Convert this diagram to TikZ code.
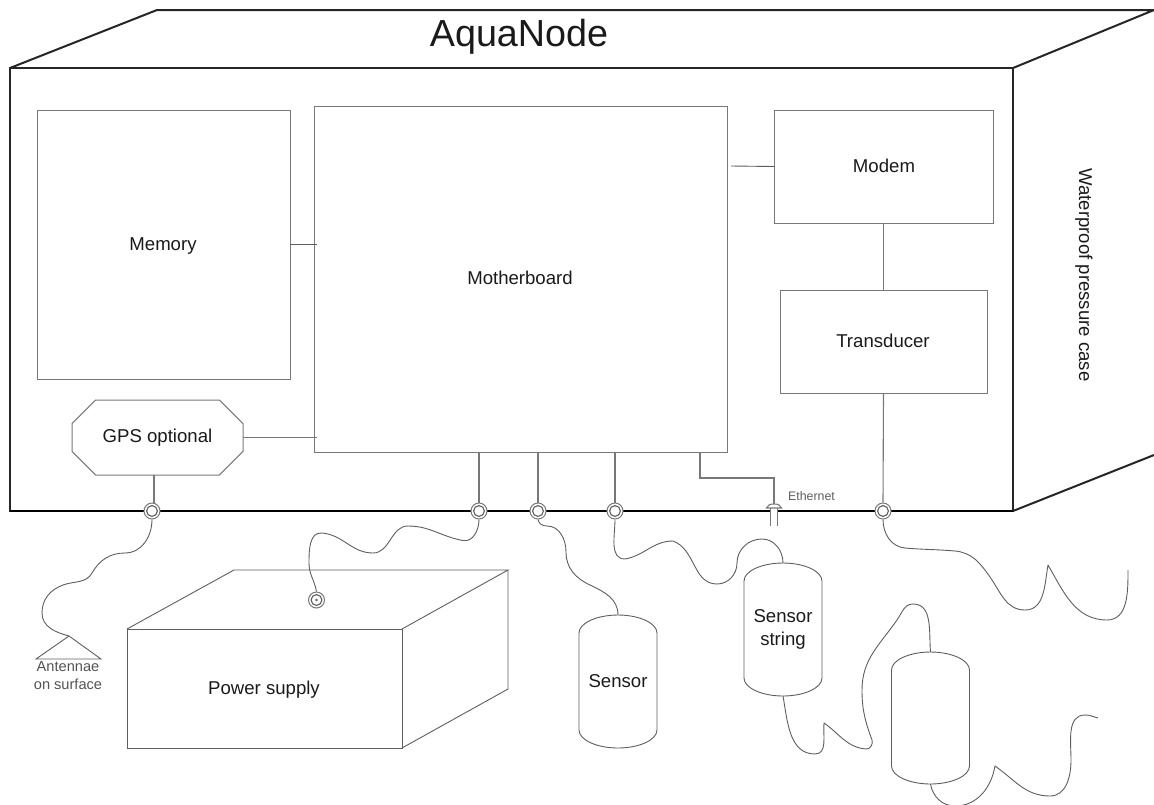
\documentclass[tikz,border=0pt]{standalone}
\usepackage{fontspec}
\setmainfont{Liberation Sans}
\usetikzlibrary{calc,shapes.misc}
\definecolor{ink}{HTML}{1A1A1A}
\definecolor{boxline}{HTML}{787878}
\definecolor{cableline}{HTML}{5E5E5E}
\tikzset{
  txt/.style={text=ink,font=\fontsize{18.6}{23}\selectfont,align=center,inner sep=0pt},
  smalltxt/.style={text=ink!75,font=\fontsize{14.6}{18}\selectfont,align=center,inner sep=0pt},
  tinytxt/.style={text=ink!70,font=\fontsize{12.4}{15}\selectfont,inner sep=0pt},
  boxnode/.style={rectangle,draw=boxline,line width=1pt,inner sep=0pt,outer sep=0pt,anchor=north west,fill=white},
  caseface/.style={draw=black!85,line width=2pt,line join=miter},
  link/.style={draw=boxline,line width=1.1pt},
  thinlink/.style={draw=cableline,line width=0.9pt},
  cable/.style={draw=cableline,line width=0.9pt,line join=round},
  portnode/.style={circle,draw=boxline,fill=white,line width=1pt,minimum size=16pt,inner sep=0pt,
    path picture={\draw[draw=cableline,line width=1.1pt] (path picture bounding box.center) circle (5.4);}},
  tankbox/.style={rectangle,minimum width=78pt,inner sep=0pt,outer sep=0pt,text=ink,font=\fontsize{18.6}{23}\selectfont,align=center},
}
\newcommand{\tank}[4]{%
  \node[tankbox,minimum height=#3] (#1) at (#2) {#4};
  \draw[thinlink] ($(#1.north west)+(0,18)$) .. controls +(0,-10) and +(-21,0) .. (#1.north)
    .. controls +(21,0) and +(0,-10) .. ($(#1.north east)+(0,18)$)
    -- ($(#1.south east)+(0,-18)$) .. controls +(0,10) and +(21,0) .. (#1.south)
    .. controls +(-21,0) and +(0,10) .. ($(#1.south west)+(0,-18)$) -- cycle;
}
\begin{document}
\begin{tikzpicture}[x=1pt,y=-1pt]
\useasboundingbox (0,0) rectangle (1154,804);
\clip (0,0) rectangle (1154,804);
% case
\coordinate (backTL) at (157,10);
\coordinate (backTR) at (1154,10);
\coordinate (backBR) at (1154,455);
\node[rectangle,caseface,inner sep=0pt,outer sep=0pt,anchor=north west,minimum width=1003pt,minimum height=443pt] (front) at (10,68) {};
\draw[draw=black,line width=2.6pt] (front.south west) -- (front.south east);
\draw[caseface] (front.north west) -- (backTL) -- (backTR) -- (front.north east);
\draw[caseface] (front.south east) -- (backBR);
\node[inner sep=0pt,text=ink,font=\fontsize{37.7}{44}\selectfont] (title) at (519,37) {AquaNode};
\node[txt,rotate=-90] (caselabel) at (1084,275) {Waterproof pressure case};
% boxes
\node[boxnode,minimum width=253pt,minimum height=269pt] (memory) at (37,110) {};
\node[txt] (memorytxt) at (163,246) {Memory};
\node[boxnode,minimum width=413pt,minimum height=346pt] (mother) at (314,106) {};
\node[txt] (mothertxt) at (520,278) {Motherboard};
\node[boxnode,minimum width=219pt,minimum height=113pt] (modem) at (774,110) {};
\node[txt] (modemtxt) at (884,166) {Modem};
\node[boxnode,minimum width=207pt,minimum height=103pt] (transducer) at (780,290) {};
\node[txt] (transducertxt) at (883,341) {Transducer};
\node[chamfered rectangle,chamfered rectangle xsep=15pt,chamfered rectangle ysep=15pt,draw=boxline,line width=1pt,fill=white,inner sep=0pt,outer sep=0pt,minimum width=171pt,minimum height=75pt,txt] (gps) at (157.5,437.5) {GPS optional};
% ports
\node[portnode] (port1) at (152,511) {};
\node[portnode] (port2) at (479,511) {};
\node[portnode] (port3) at (538,511) {};
\node[portnode] (port4) at (615,511) {};
\node[portnode] (port5) at (883,511) {};
% links
\draw[thinlink] (memory.east) -- ([xshift=3pt]mother.west |- memory.east);
\draw[link] (gps.east) -- ([xshift=3pt]mother.west |- gps.east);
\coordinate (modemstub) at (731,166);
\draw[thinlink] (modem.west) -- (modemstub);
\draw[link] (modem.south -| transducer.north) -- (transducer.north);
\draw[link] (transducer.south) -- (port5.north);
\draw[link] ([xshift=2pt]port1.north) -- ([xshift=2pt]port1.north |- gps.south);
\draw[link] (port2.north) -- (port2.north |- mother.south);
\draw[link] (port3.north) -- (port3.north |- mother.south);
\draw[link] (port4.north) -- (port4.north |- mother.south);
% ethernet
\node[rectangle,fill=white,inner sep=0pt,outer sep=0pt,minimum width=7pt,minimum height=18pt,anchor=north] (plug) at (774,508) {};
\draw[link] (plug.north west) -- (plug.south west) (plug.north east) -- (plug.south east);
\draw[link] (plug.north) ++(-7.5,0) .. controls +(1,-3) and +(-4,0) .. ($(plug.north)+(0,-4)$) .. controls +(4,0) and +(-1,-3) .. ($(plug.north)+(7.5,0)$) -- cycle;
\coordinate (ethup) at (700,452);
\draw[link] (plug.north) ++(0,-4) |- (ethup |- 0,478) -- (ethup);
\node[tinytxt] (ethernet) at (811.5,496) {Ethernet};
% antenna
\coordinate (ant) at (69,636);
\draw[thinlink] (36,659) -- (ant) -- (101,659) -- cycle;
\node[smalltxt] (antlabel) at (68,676) {Antennae\\on surface};
% power supply
\node[boxnode,fill=none,minimum width=275pt,minimum height=119pt,draw=cableline] (power) at (127,629) {};
\coordinate (pbTL) at (234,570);
\coordinate (pbTR) at (508,570);
\coordinate (pbBR) at (508,689);
\draw[thinlink] (power.north west) -- (pbTL) -- (pbTR) -- (power.north east);
\draw[thinlink] (pbTR) -- (pbBR) -- (power.south east);
\node[txt] (powertxt) at (264,690) {Power supply};
\node[portnode] (powerport) at (316.5,600) {};
\fill[cableline] (powerport.center) circle (1.3);
% tanks
\tank{sensor}{618,681.5}{133pt}{Sensor}
\tank{sstring}{783,629.5}{133pt}{Sensor\\string}
\tank{third}{930.5,718}{132pt}{}
% cables
\draw[cable] (port1.south) to[out=-90,in=0] (125,553) to[out=180,in=60] (92,573) to[out=240,in=20] (63,585) to[out=200,in=90] (42,613) to[out=-90,in=165] (ant);
\draw[cable] (port2.south) to[out=-90,in=-10] (463,540.5) to[out=170,in=0] (408,526) to[out=180,in=0] (373,553) to[out=180,in=-5] (322,533) to[out=175,in=90] (309,563) to[out=-90,in=100] (powerport.north);
\draw[cable] (port3.south) to[out=-80,in=180] (547,526) to[out=0,in=90] (566,552) to[out=-90,in=155] (590,585) to[out=-25,in=90] (sensor.north);
\draw[cable] (port4.south) to[out=-90,in=180] (625,559) to[out=10,in=180] (673,541) to[out=-20,in=180] (717,584) to[out=0,in=-90] (737,563) to[out=90,in=180] (762,539) to[out=0,in=90] (sstring.north);
\draw[cable] (port5.south) to[out=-90,in=175] (905,548) to[out=-5,in=175] (955,551) to[out=-5,in=125] (990,577) to[out=-55,in=180] (1025,610) to[out=0,in=-100] (1048,565) to[out=-60,in=180] (1107,620) to[out=0,in=-90] (1128,570);
\draw[cable] (sstring.south) to[out=-80,in=180] (815,754) to[out=0,in=-95] (824,723) to[out=-35,in=175] (866,749) to[out=-5,in=-70] (872,740) to[out=110,in=-90] (862,690) to[out=90,in=-125] (897,620) to[out=55,in=180] (913,604) to[out=0,in=95] (third.north);
\draw[cable] (third.south) to[out=-80,in=180] (955,806) to[out=0,in=-100] (995,766) to[out=-35,in=180] (1050,796) to[out=0,in=-90] (1071,760) to[out=90,in=180] (1085,715) to[out=0,in=165] (1098,718);
\end{tikzpicture}
\end{document}
